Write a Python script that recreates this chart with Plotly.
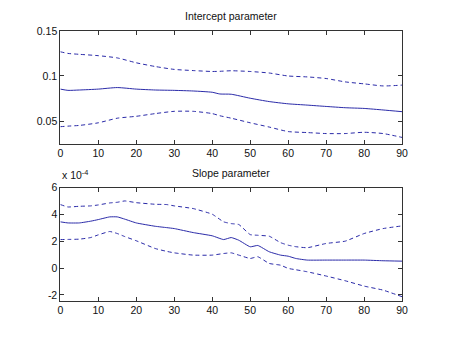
import plotly.graph_objects as go

# ---- Intercept parameter ----
x_int = [0, 2, 5, 10, 15, 20, 25, 30, 35, 40, 42, 45, 50, 55, 60, 65, 70, 75, 80, 85, 90]
int_mid = [0.0855, 0.0841, 0.0845, 0.0855, 0.0872, 0.0855, 0.0845, 0.0841, 0.0834, 0.0820, 0.0801,
           0.0798, 0.0754, 0.0717, 0.0692, 0.0678, 0.0663, 0.0649, 0.0641, 0.0624, 0.0605]
int_up = [0.1268, 0.1250, 0.1240, 0.1225, 0.1200, 0.1146, 0.1105, 0.1073, 0.1060, 0.1050, 0.1052,
          0.1058, 0.1050, 0.1033, 0.1000, 0.0990, 0.0972, 0.0935, 0.0913, 0.0890, 0.0899]
int_lo = [0.0439, 0.0445, 0.0453, 0.0482, 0.0533, 0.0554, 0.0584, 0.0609, 0.0609, 0.0584, 0.0560,
          0.0533, 0.0482, 0.0435, 0.0385, 0.0374, 0.0363, 0.0363, 0.0377, 0.0363, 0.0320]

# ---- Slope parameter (units of 1e-4) ----
x_slope = [0, 2, 5, 8, 10, 13, 15, 17, 20, 25, 28, 30, 35, 40, 43, 45, 47, 50, 52, 55, 58, 60,
           62, 65, 70, 75, 80, 85, 90]
slope_mid = [3.45, 3.37, 3.37, 3.50, 3.62, 3.82, 3.82, 3.65, 3.37, 3.12, 3.02, 2.95, 2.65, 2.41, 2.13,
             2.28, 2.08, 1.59, 1.69, 1.22, 0.97, 0.89, 0.72, 0.60, 0.60, 0.60, 0.60, 0.55, 0.52]
slope_up = [4.74, 4.56, 4.61, 4.64, 4.71, 4.86, 4.91, 5.01, 4.88, 4.76, 4.74, 4.64, 4.44, 4.02, 3.45,
            3.32, 3.25, 2.50, 2.45, 2.38, 1.90, 1.71, 1.60, 1.52, 1.84, 2.01, 2.58, 2.95, 3.15]
slope_lo = [2.13, 2.14, 2.16, 2.28, 2.48, 2.73, 2.58, 2.35, 2.04, 1.46, 1.25, 1.14, 0.97, 0.97, 1.09,
            1.14, 0.97, 0.72, 0.85, 0.35, 0.22, -0.02, -0.12, -0.27, -0.59, -0.94, -1.34, -1.64, -2.13]

x_ticks = [0, 10, 20, 30, 40, 50, 60, 70, 80, 90]
int_ticks = [0.05, 0.1, 0.15]
int_ticktext = ["0.05", "0.1", "0.15"]
slope_ticks = [-2, 0, 2, 4, 6]
slope_ticktext = ["-2", "0", "2", "4", "6"]

LINE = "#2a2aa8"
FONT = "Liberation Sans"

fig = go.Figure()
for ys, dash in [(int_up, "4px,3px"), (int_mid, "solid"), (int_lo, "4px,3px")]:
    fig.add_trace(go.Scatter(x=x_int, y=ys, mode="lines", xaxis="x", yaxis="y",
                             line=dict(color=LINE, width=1, dash=dash, shape="spline", smoothing=0.6),
                             showlegend=False, hoverinfo="skip"))
for ys, dash in [(slope_up, "4px,3px"), (slope_mid, "solid"), (slope_lo, "4px,3px")]:
    fig.add_trace(go.Scatter(x=x_slope, y=ys, mode="lines", xaxis="x2", yaxis="y2",
                             line=dict(color=LINE, width=1, dash=dash, shape="spline", smoothing=0.4),
                             showlegend=False, hoverinfo="skip"))

axis_common = dict(showline=True, linecolor="#333333", linewidth=1, mirror="ticks",
                   ticks="inside", ticklen=4, tickcolor="#333333", showgrid=False,
                   zeroline=False, tickfont=dict(family=FONT, size=10.5, color="#111111"))

fig.update_layout(
    width=450, height=337,
    margin=dict(l=0, r=0, t=0, b=0),
    paper_bgcolor="white", plot_bgcolor="white",
    font=dict(family=FONT, size=10.5, color="#111111"),
    xaxis=dict(domain=[0.13, 0.905], range=[0, 90], tickvals=x_ticks, anchor="y", **axis_common),
    yaxis=dict(domain=[0.5838, 0.925], range=[0.025, 0.15], tickvals=int_ticks,
               ticktext=int_ticktext, anchor="x", **axis_common),
    xaxis2=dict(domain=[0.13, 0.905], range=[0, 90], tickvals=x_ticks, anchor="y2", **axis_common),
    yaxis2=dict(domain=[0.11, 0.4512], range=[-2.42, 6], tickvals=slope_ticks,
                ticktext=slope_ticktext, anchor="x2", **axis_common),
    annotations=[
        dict(text="Intercept parameter", x=0.5175, y=0.925, xref="paper", yref="paper",
             xanchor="center", yanchor="bottom", yshift=7, showarrow=False,
             font=dict(family=FONT, size=10.5, color="#111111")),
        dict(text="Slope parameter", x=0.5175, y=0.4512, xref="paper", yref="paper",
             xanchor="center", yanchor="bottom", yshift=7, showarrow=False,
             font=dict(family=FONT, size=10.5, color="#111111")),
        dict(text="x 10<sup>-4</sup>", x=0.13, y=0.4512, xref="paper", yref="paper",
             xanchor="left", yanchor="bottom", yshift=5, showarrow=False,
             font=dict(family=FONT, size=10.5, color="#111111")),
    ],
)

fig.write_html("out.html")
